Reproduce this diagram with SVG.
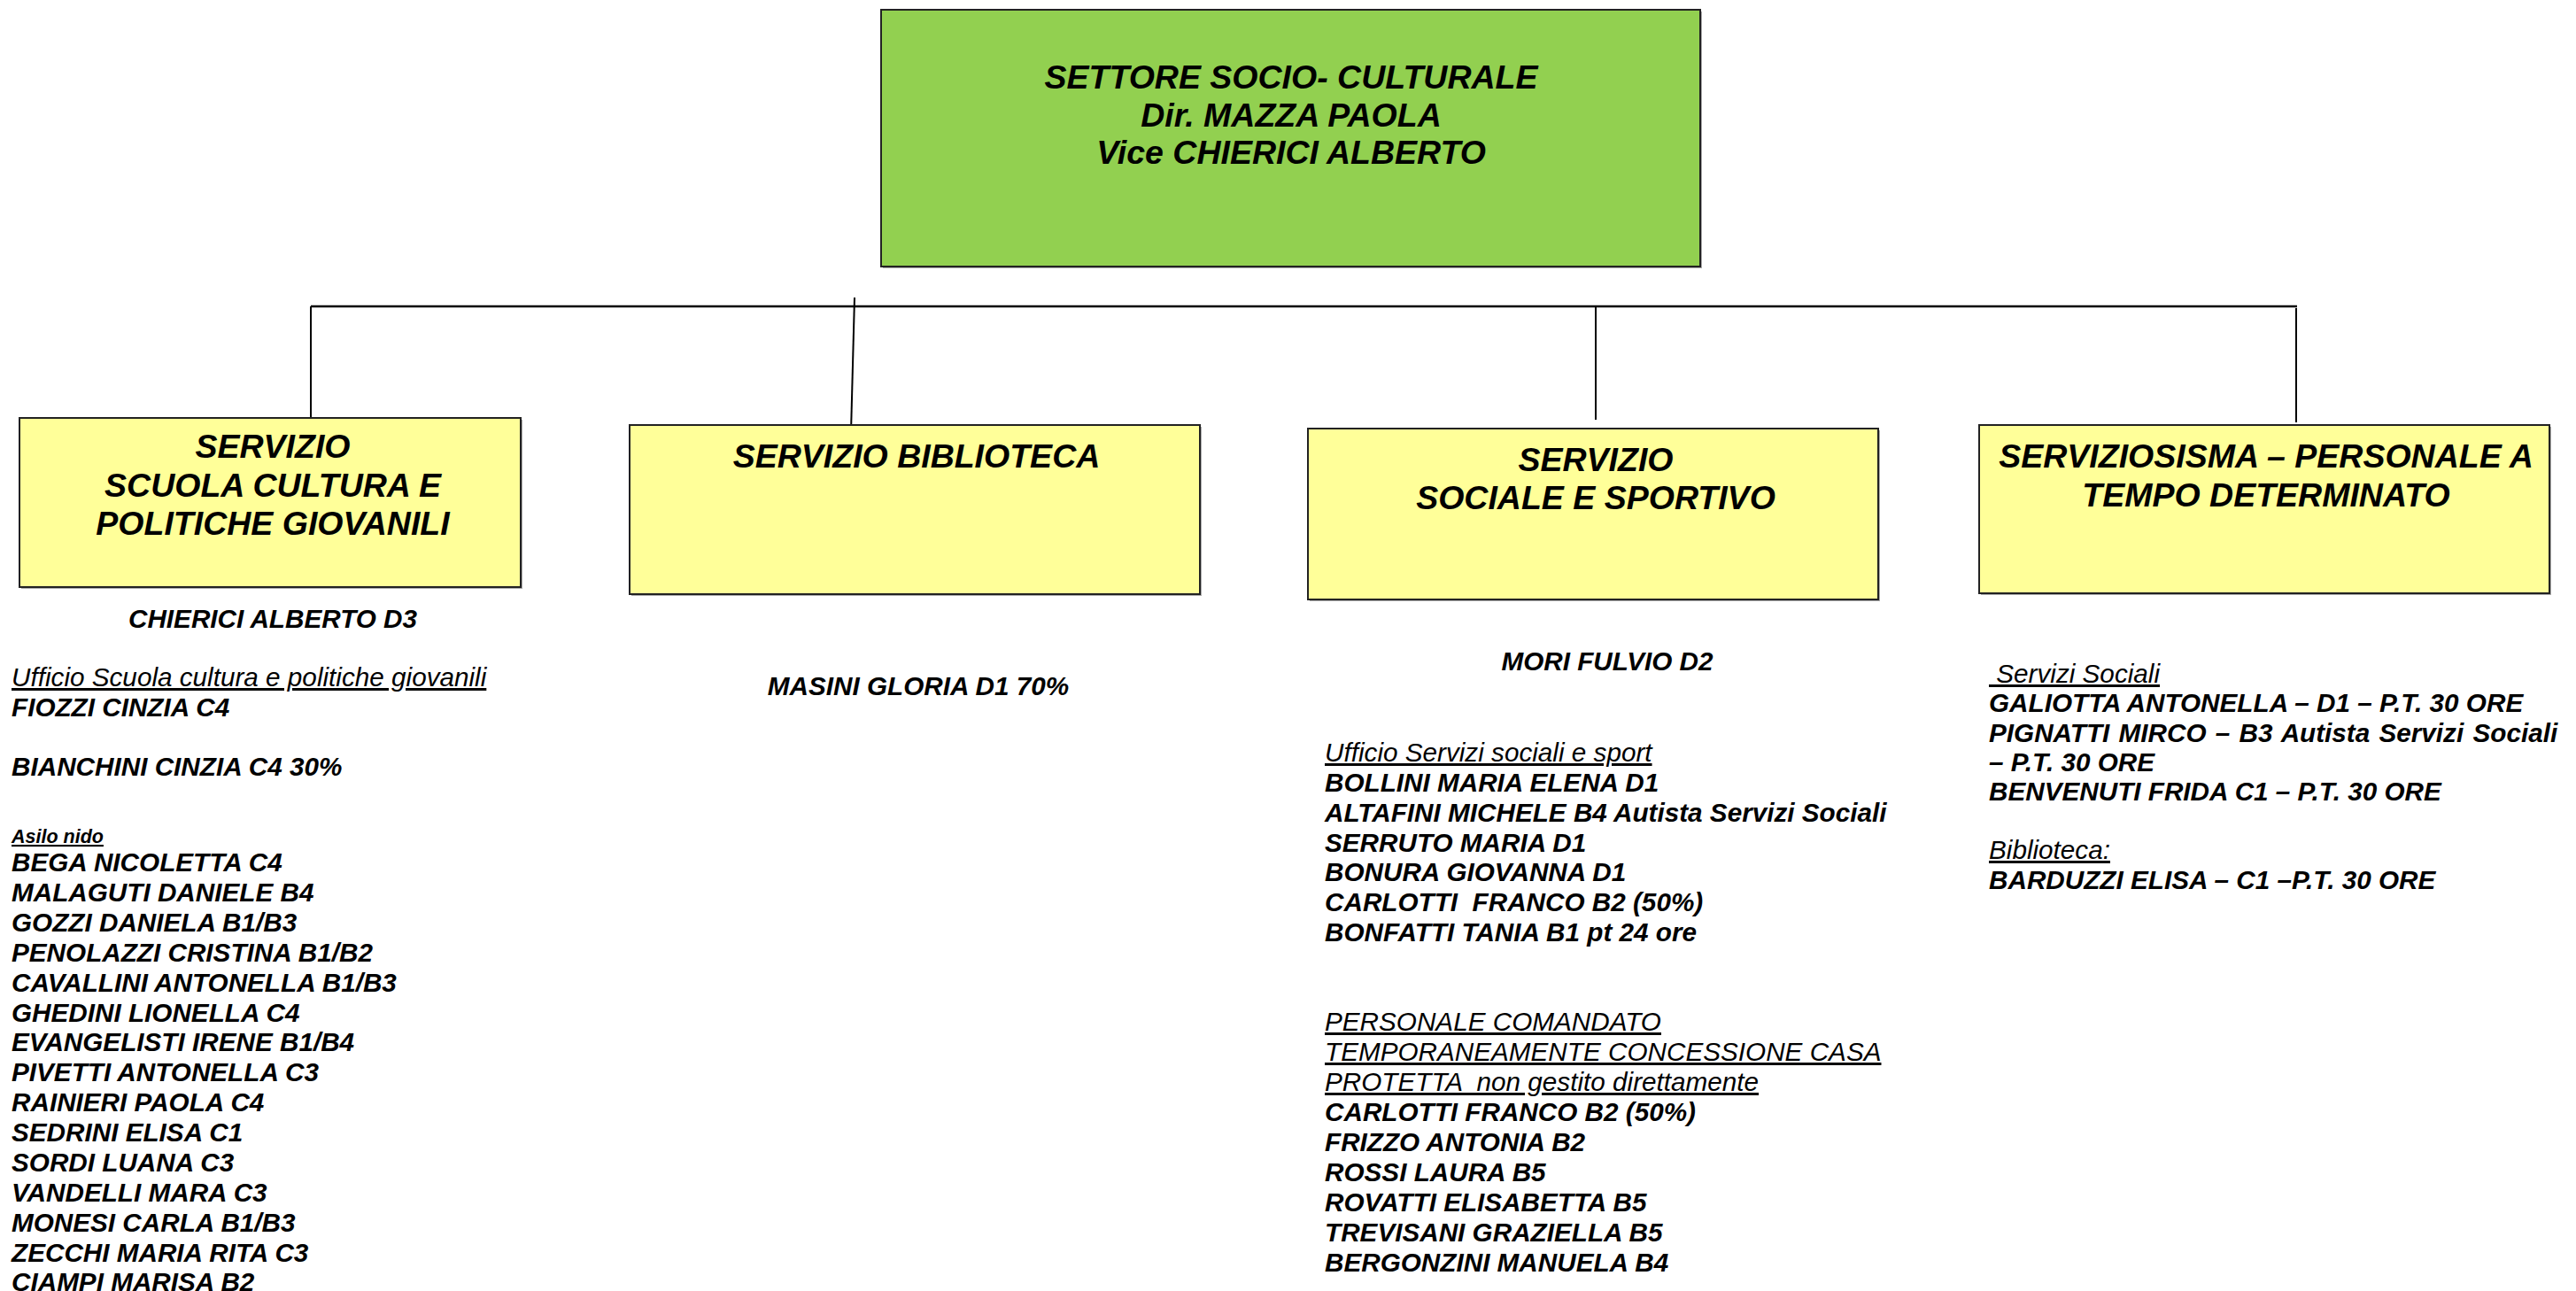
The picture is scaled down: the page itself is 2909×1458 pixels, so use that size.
<svg xmlns="http://www.w3.org/2000/svg" width="2909" height="1458" viewBox="0 0 2909 1458">
<style>
text{font-family:"Liberation Sans",Arial,sans-serif;fill:#000}
.h{font-weight:bold;font-style:italic;font-size:37.5px;text-anchor:middle}
.b{font-weight:bold;font-style:italic;font-size:29.7px}
.c{text-anchor:middle}
.u{font-style:italic;font-size:29.7px;text-decoration:underline}
.s{font-weight:bold;font-style:italic;font-size:21.5px;text-decoration:underline}
.pre{white-space:pre}
.box{fill:#FFFF99;stroke:#222;stroke-width:2}
.top{fill:#92D050;stroke:#222;stroke-width:2}
.sh{fill:#aaa}
.ln{stroke:#000;stroke-width:2;fill:none}
.hl{stroke:#000;stroke-width:2.6;fill:none}
</style>
<rect width="2909" height="1458" fill="#fff"/>
<g id="connectors">
<line class="hl" x1="351" y1="346" x2="2594" y2="346"/>
<line class="ln" x1="351" y1="346" x2="351" y2="472"/>
<line class="ln" x1="1802" y1="346" x2="1802" y2="474"/>
<line class="ln" x1="2593" y1="348" x2="2593" y2="477"/>
<line class="ln" x1="965" y1="336" x2="961" y2="488"/>
</g>
<g id="node-settore">
<rect class="sh" x="997" y="13" width="925" height="290"/>
<rect class="top" x="995" y="11" width="925" height="290"/>
<text class="h" x="1458" y="100">SETTORE SOCIO- CULTURALE</text>
<text class="h" x="1458" y="143">Dir. MAZZA PAOLA</text>
<text class="h" x="1458" y="185">Vice CHIERICI ALBERTO</text>
</g>
<g id="node-scuola">
<rect class="sh" x="24" y="474" width="566" height="191"/>
<rect class="box" x="22" y="472" width="566" height="191"/>
<text class="h" x="308" y="517">SERVIZIO</text>
<text class="h" x="308" y="561">SCUOLA CULTURA E</text>
<text class="h" x="308" y="604">POLITICHE GIOVANILI</text>
</g>
<g id="node-biblioteca">
<rect class="sh" x="713" y="482" width="644" height="191"/>
<rect class="box" x="711" y="480" width="644" height="191"/>
<text class="h" x="1035" y="528">SERVIZIO BIBLIOTECA</text>
</g>
<g id="node-sociale">
<rect class="sh" x="1479" y="486" width="644" height="193"/>
<rect class="box" x="1477" y="484" width="644" height="193"/>
<text class="h" x="1802" y="532">SERVIZIO</text>
<text class="h" x="1802" y="575">SOCIALE E SPORTIVO</text>
</g>
<g id="node-sisma">
<rect class="sh" x="2237" y="482" width="644" height="190"/>
<rect class="box" x="2235" y="480" width="644" height="190"/>
<text class="h" x="2559" y="528">SERVIZIOSISMA – PERSONALE A</text>
<text class="h" x="2559" y="572">TEMPO DETERMINATO</text>
</g>
<g id="staff-scuola">
<text class="b c" x="308" y="709">CHIERICI ALBERTO D3</text>
<text class="u" x="13" y="775">Ufficio Scuola cultura e politiche giovanili</text>
<text class="b" x="13" y="809">FIOZZI CINZIA C4</text>
<text class="b" x="13" y="876">BIANCHINI CINZIA C4 30%</text>
<text class="s" x="13" y="952">Asilo nido</text>
<text class="b" x="13" y="984">BEGA NICOLETTA C4</text>
<text class="b" x="13" y="1018">MALAGUTI DANIELE B4</text>
<text class="b" x="13" y="1052">GOZZI DANIELA B1/B3</text>
<text class="b" x="13" y="1086">PENOLAZZI CRISTINA B1/B2</text>
<text class="b" x="13" y="1120">CAVALLINI ANTONELLA B1/B3</text>
<text class="b" x="13" y="1154">GHEDINI LIONELLA C4</text>
<text class="b" x="13" y="1187">EVANGELISTI IRENE B1/B4</text>
<text class="b" x="13" y="1221">PIVETTI ANTONELLA C3</text>
<text class="b" x="13" y="1255">RAINIERI PAOLA C4</text>
<text class="b" x="13" y="1289">SEDRINI ELISA C1</text>
<text class="b" x="13" y="1323">SORDI LUANA C3</text>
<text class="b" x="13" y="1357">VANDELLI MARA C3</text>
<text class="b" x="13" y="1391">MONESI CARLA B1/B3</text>
<text class="b" x="13" y="1425">ZECCHI MARIA RITA C3</text>
<text class="b" x="13" y="1458">CIAMPI MARISA B2</text>
</g>
<g id="staff-biblioteca">
<text class="b c" x="1037" y="785">MASINI GLORIA D1 70%</text>
</g>
<g id="staff-sociale">
<text class="b c" x="1815" y="757">MORI FULVIO D2</text>
<text class="u" x="1496" y="860">Ufficio Servizi sociali e sport</text>
<text class="b" x="1496" y="894">BOLLINI MARIA ELENA D1</text>
<text class="b" x="1496" y="928">ALTAFINI MICHELE B4 Autista Servizi Sociali</text>
<text class="b" x="1496" y="962">SERRUTO MARIA D1</text>
<text class="b" x="1496" y="995">BONURA GIOVANNA D1</text>
<text class="b pre" x="1496" y="1029">CARLOTTI  FRANCO B2 (50%)</text>
<text class="b" x="1496" y="1063">BONFATTI TANIA B1 pt 24 ore</text>
<text class="u" x="1496" y="1164">PERSONALE COMANDATO</text>
<text class="u" x="1496" y="1198">TEMPORANEAMENTE CONCESSIONE CASA</text>
<text class="u pre" x="1496" y="1232">PROTETTA  non gestito direttamente</text>
<text class="b" x="1496" y="1266">CARLOTTI FRANCO B2 (50%)</text>
<text class="b" x="1496" y="1300">FRIZZO ANTONIA B2</text>
<text class="b" x="1496" y="1334">ROSSI LAURA B5</text>
<text class="b" x="1496" y="1368">ROVATTI ELISABETTA B5</text>
<text class="b" x="1496" y="1402">TREVISANI GRAZIELLA B5</text>
<text class="b" x="1496" y="1436">BERGONZINI MANUELA B4</text>
</g>
<g id="staff-sisma">
<text class="u pre" x="2246" y="771"> Servizi Sociali</text>
<text class="b" x="2246" y="804">GALIOTTA ANTONELLA – D1 – P.T. 30 ORE</text>
<text class="b" x="2246" y="838" word-spacing="2">PIGNATTI MIRCO – B3 Autista Servizi Sociali</text>
<text class="b" x="2246" y="871">– P.T. 30 ORE</text>
<text class="b" x="2246" y="904">BENVENUTI FRIDA C1 – P.T. 30 ORE</text>
<text class="u" x="2246" y="970">Biblioteca:</text>
<text class="b" x="2246" y="1004">BARDUZZI ELISA – C1 –P.T. 30 ORE</text>
</g>
</svg>
